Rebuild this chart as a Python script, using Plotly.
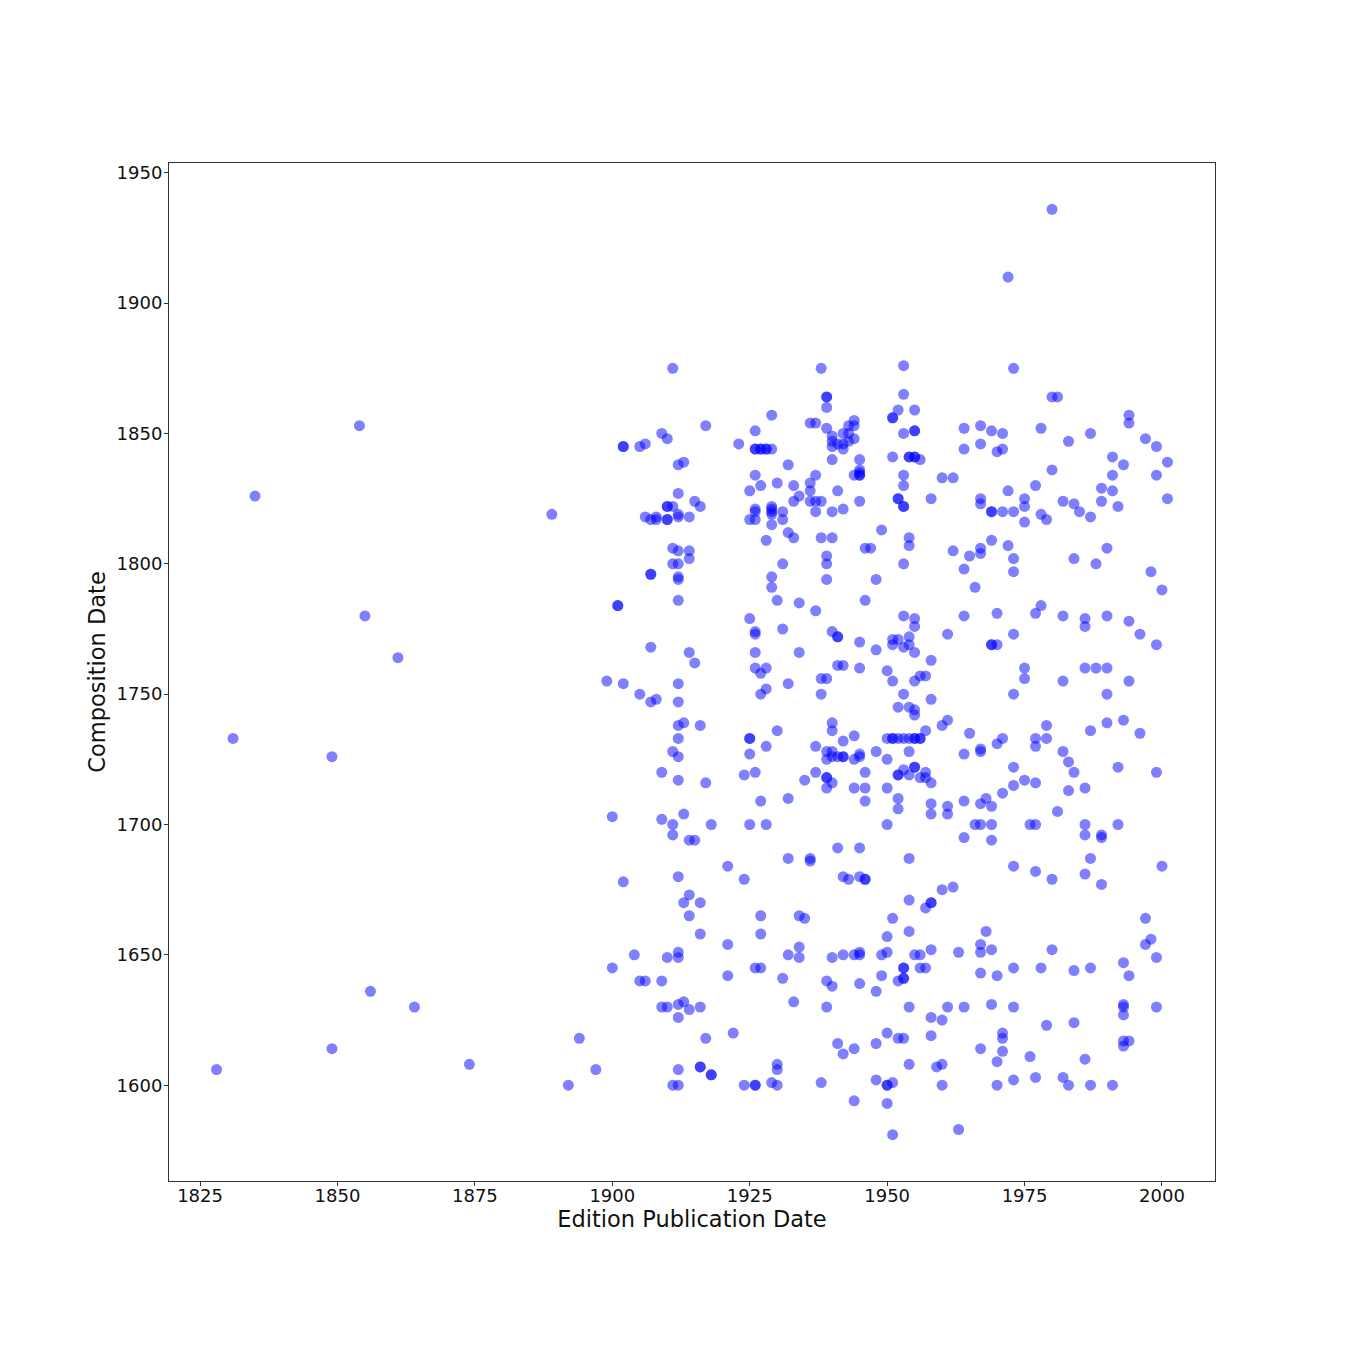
import plotly.graph_objects as go

editions = [1828,1831,1835,1849,1854,1855,1856,1861,1864,1874,1889,1892,1894,1897,1899,1900,1901,1902,1904,1905,1906,1907,1908,1909,1910,1911,1912,1913,1914,1915,1916,1917,1918,1921,1922,1923,1924,1925,1926,1927,1928,1929,1930,1931,1932,1933,1934,1935,1936,1937,1938,1939,1940,1941,1942,1943,1944,1945,1946,1947,1948,1949,1950,1951,1952,1953,1954,1955,1956,1957,1958,1959,1960,1961,1962,1963,1964,1965,1966,1967,1968,1969,1970,1971,1972,1973,1975,1976,1977,1978,1979,1980,1981,1982,1983,1984,1985,1986,1987,1988,1989,1990,1991,1992,1993,1994,1996,1997,1998,1999,2000,2001]
compositions = [
[1606],[1733],[1826],[1726,1614],[1853],[1780],[1636],[1764],[1630],[1608],[1819],[1600],[1618],[1606],[1755],[1703,1645],[1784,1784],[1845,1845,1754,1678],[1650],[1845,1750,1640],[1846,1818,1640],[1817,1796,1796,1768,1747],[1818,1817,1748],[1850,1720,1702,1640,1630],
[1848,1822,1822,1817,1817,1649,1630],
[1875,1822,1806,1800,1728,1700,1696,1600],
[1838,1827,1819,1818,1805,1800,1795,1794,1786,1754,1747,1738,1733,1726,1717,1680,1651,1649,1631,1626,1606,1600],
[1839,1739,1704,1670,1632],
[1818,1805,1802,1766,1694,1673,1665,1629],
[1824,1762,1694],
[1822,1738,1670,1658,1630,1607,1607],
[1853,1716,1618],
[1700,1604,1604],
[1684,1654,1642],
[1620],
[1846],
[1719,1679,1600],
[1828,1817,1779,1733,1733,1727,1700],
[1851,1844,1844,1834,1821,1820,1817,1774,1773,1766,1760,1720,1645,1600,1600],
[1844,1844,1830,1758,1750,1709,1665,1658,1645],
[1844,1844,1809,1760,1752,1730,1700],
[1857,1844,1822,1821,1820,1819,1815,1795,1791,1601],
[1831,1786,1736,1608,1606,1600],
[1820,1817,1800,1775,1641],
[1838,1812,1754,1710,1687,1650],
[1830,1824,1810,1632],
[1826,1785,1766,1665,1653,1649],
[1717,1664],
[1854,1831,1828,1824,1687,1686],
[1854,1834,1824,1820,1782,1730,1720],
[1875,1824,1810,1756,1750,1601],
[1864,1864,1860,1852,1803,1800,1794,1756,1728,1725,1718,1718,1714,1640,1630],
[1849,1847,1845,1840,1820,1810,1774,1739,1736,1728,1726,1716,1649,1638],
[1846,1828,1772,1772,1761,1726,1691,1616],
[1850,1846,1844,1821,1761,1732,1726,1726,1680,1650,1612],
[1853,1850,1847,1679],
[1855,1853,1848,1834,1734,1725,1714,1650,1614,1594],
[1840,1836,1835,1834,1834,1824,1770,1760,1727,1726,1691,1680,1651,1650,1639],
[1806,1786,1720,1714,1709,1679,1679],
[1806],
[1794,1767,1728,1636,1616,1602],
[1813,1650,1642],
[1759,1733,1725,1714,1700,1657,1651,1620,1600,1600,1593],
[1856,1856,1841,1771,1769,1755,1733,1733,1664,1601,1581],
[1859,1825,1825,1771,1745,1733,1719,1719,1710,1706,1640,1618],
[1876,1865,1850,1834,1830,1822,1822,1800,1780,1768,1750,1733,1721,1645,1645,1641,1641,1618],
[1841,1841,1810,1807,1772,1769,1745,1733,1728,1719,1687,1671,1659,1630,1608],
[1859,1851,1851,1841,1841,1779,1776,1766,1755,1744,1742,1733,1733,1722,1722,1650],
[1840,1757,1733,1733,1718,1650,1645],
[1757,1736,1720,1718,1668,1645],
[1825,1763,1748,1716,1708,1704,1670,1670,1652,1626,1619],
[1607],
[1833,1738,1675,1625,1608,1600],
[1773,1740,1707,1704,1630],
[1833,1805,1676],
[1651,1583],
[1852,1844,1798,1780,1727,1709,1695,1630],
[1803,1735],
[1791,1700],
[1853,1846,1825,1823,1806,1804,1729,1728,1708,1700,1654,1651,1643,1614],
[1710,1659],
[1851,1820,1820,1809,1769,1769,1707,1700,1694,1652,1631],
[1843,1781,1769,1731,1642,1609,1600],
[1850,1844,1820,1733,1712,1620,1618,1613],
[1910,1828,1807],
[1875,1820,1802,1797,1773,1750,1722,1715,1684,1645,1630,1602],
[1825,1822,1816,1760,1756,1717],
[1700,1611],
[1830,1781,1733,1730,1716,1700,1682,1603],
[1852,1819,1784,1645],
[1817,1738,1733,1623],
[1936,1864,1836,1679,1652],
[1864,1705],
[1824,1780,1755,1728,1603],
[1847,1724,1713,1600],
[1823,1802,1720,1644,1624],
[1820],
[1779,1776,1760,1714,1700,1696,1681,1610],
[1850,1818,1736,1687,1645,1600],
[1800,1760],
[1829,1824,1696,1695,1677],
[1806,1780,1760,1750,1739],
[1841,1834,1828,1600],
[1822,1722,1700],
[1838,1740,1647,1631,1630,1627,1617,1615],
[1857,1854,1778,1755,1642,1617],
[1773,1735],
[1848,1664,1654],
[1797,1656],
[1845,1834,1769,1720,1649,1630],
[1790,1684],
[1839,1825],
]
x_ticks = [1825,1850,1875,1900,1925,1950,1975,2000]
y_ticks = [1600,1650,1700,1750,1800,1850,1900,1950]

xs = [e for e, c in zip(editions, compositions) for _ in c]
ys = [v for c in compositions for v in c]

fig = go.Figure(go.Scatter(x=xs, y=ys, mode="markers",
    marker=dict(color="blue", opacity=0.5, size=11, line=dict(width=0))))
axis = dict(showgrid=False, zeroline=False, showline=True, linecolor="#333333", linewidth=1,
            mirror=True, ticks="outside", ticklen=4, tickcolor="#333333", tickwidth=1,
            tickfont=dict(family="DejaVu Sans", size=18, color="#111111"), automargin=False)
fig.update_layout(width=1350, height=1350, autosize=False, paper_bgcolor="white", plot_bgcolor="white",
    margin=dict(l=161, r=143, t=155, b=177), showlegend=False,
    font=dict(family="DejaVu Sans", color="#111111"),
    xaxis=dict(axis, range=[1819.35, 2009.65], tickvals=x_ticks, ticklabelstandoff=-6,
               title=dict(text="Edition Publication Date", font=dict(size=22.5), standoff=5)),
    yaxis=dict(axis, range=[1563.25, 1953.75], tickvals=y_ticks, ticklabelstandoff=-2,
               title=dict(text="Composition Date", font=dict(size=22.5), standoff=4)))
fig.write_html("out.html")
